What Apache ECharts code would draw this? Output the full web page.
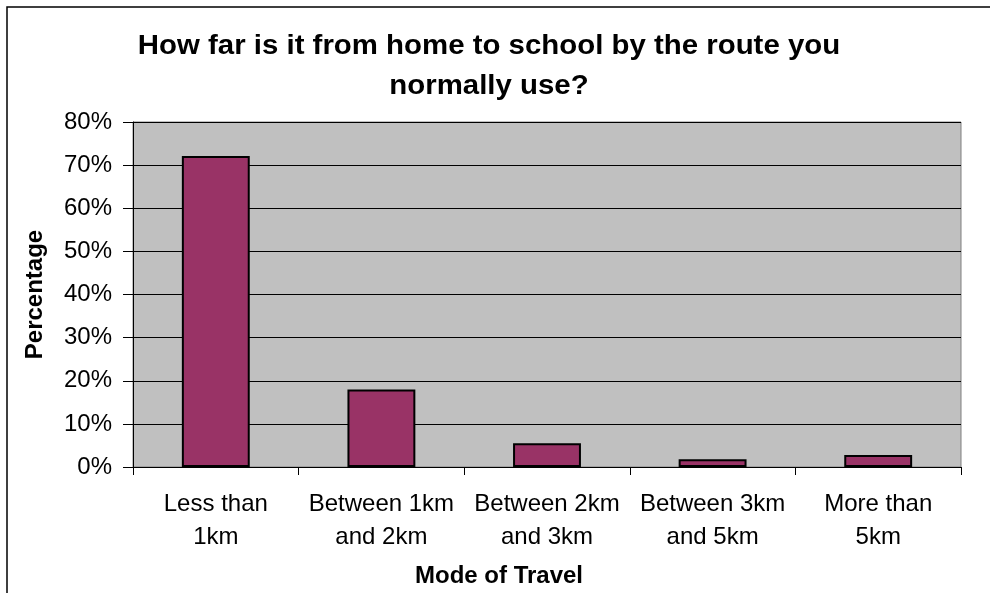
<!DOCTYPE html>
<html>
<head>
<meta charset="utf-8">
<script src="https://cdn.jsdelivr.net/npm/echarts@6/dist/echarts.min.js"></script>
<style>
  html, body { margin: 0; padding: 0; background: #fff; }
  #chart { width: 990px; height: 593px; }
</style>
</head>
<body>
<div id="chart"></div>
<script>
// distance categories and share of pupils (%)
const categories = ['Less than\n1km', 'Between 1km\nand 2km', 'Between 2km\nand 3km', 'Between 3km\nand 5km', 'More than\n5km'];
const percentages = [72.1, 18.0, 5.5, 1.8, 2.8];

const titleText = 'How far is it from home to school by the route you\nnormally use?';
const font = '"Liberation Sans", Arial, sans-serif';

const chart = echarts.init(document.getElementById('chart'));

const option = {
  backgroundColor: '#ffffff',
  animation: false,
  textStyle: { fontFamily: font },
  graphic: [
    {
      type: 'rect',
      shape: { x: 7, y: 7, width: 1000, height: 600 },
      style: { fill: 'none', stroke: '#000', lineWidth: 1.5 },
      z: -1
    },
    {
      // title is drawn a bit wide, like the original
      type: 'text',
      x: 489,
      y: 66,
      scaleX: 1.05,
      style: {
        text: titleText,
        fontSize: 28,
        fontWeight: 'bold',
        fontFamily: font,
        fill: '#000',
        lineHeight: 40,
        align: 'center',
        verticalAlign: 'middle'
      }
    },
    {
      type: 'text',
      x: 499,
      y: 576,
      style: {
        text: 'Mode of Travel',
        fontSize: 24,
        fontWeight: 'bold',
        fontFamily: font,
        fill: '#000',
        align: 'center',
        verticalAlign: 'middle'
      }
    }
  ],
  grid: {
    left: 133,
    right: 29,
    top: 122,
    bottom: 126,
    show: true,
    backgroundColor: '#c0c0c0',
    borderColor: '#808080',
    borderWidth: 1
  },
  xAxis: {
    type: 'category',
    data: categories,
    axisLine: { lineStyle: { color: '#000', width: 1 } },
    axisTick: { show: true, length: 8, lineStyle: { color: '#000' } },
    axisLabel: { fontSize: 24, color: '#000', lineHeight: 33, margin: 21, interval: 0 }
  },
  yAxis: {
    type: 'value',
    min: 0,
    max: 80,
    interval: 10,
    name: 'Percentage',
    nameLocation: 'middle',
    nameGap: 86,
    nameTextStyle: { fontSize: 24, fontWeight: 'bold', color: '#000' },
    axisLine: { show: true, lineStyle: { color: '#000', width: 1 } },
    axisTick: { show: true, length: 10, lineStyle: { color: '#000' } },
    axisLabel: { fontSize: 24, color: '#000', margin: 21, formatter: '{value}%' },
    splitLine: { show: true, lineStyle: { color: '#000', width: 1 } }
  },
  series: [{
    type: 'bar',
    data: percentages,
    barWidth: '41%',
    itemStyle: { color: '#993366', borderColor: '#000', borderWidth: 2 }
  }]
};

chart.setOption(option);
</script>
</body>
</html>
